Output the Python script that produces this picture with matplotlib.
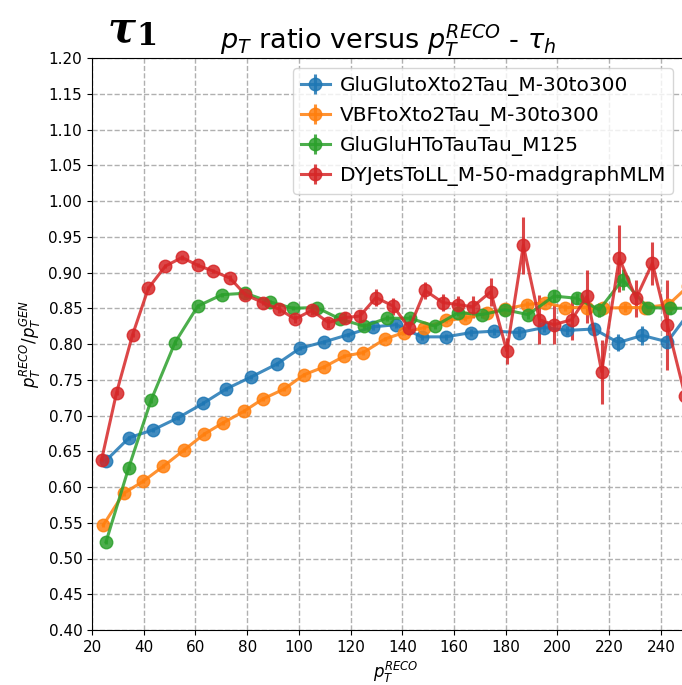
import matplotlib.pyplot as plt
import numpy as np

# values
blue_x = [25.4, 34.4, 43.7, 53.4, 63.0, 71.8, 81.6, 91.5, 100.4, 109.8, 119.1, 128.8, 137.6,
          147.5, 156.8, 166.6, 175.6, 185.1, 194.8, 203.8, 214.1, 223.5, 232.8, 242.5, 252.2]
blue_y = [0.637, 0.669, 0.680, 0.697, 0.717, 0.737, 0.754, 0.772, 0.794, 0.803, 0.813, 0.824, 0.827,
          0.810, 0.810, 0.816, 0.818, 0.816, 0.823, 0.819, 0.821, 0.802, 0.812, 0.803, 0.850]
blue_err = [0.003, 0.003, 0.003, 0.003, 0.003, 0.003, 0.003, 0.003, 0.003, 0.003, 0.003, 0.004, 0.004,
            0.004, 0.004, 0.005, 0.005, 0.006, 0.006, 0.006, 0.007, 0.012, 0.013, 0.010, 0.010]

orange_x = [24.4, 32.2, 39.8, 47.6, 55.7, 63.4, 70.8, 78.8, 86.0, 94.3, 102.0, 109.8, 117.6, 124.9, 133.3,
            140.6, 148.5, 156.9, 164.2, 172.6, 179.7, 188.1, 195.2, 202.9, 211.3, 217.7, 226.1, 233.8, 242.9, 250.6]
orange_y = [0.547, 0.591, 0.608, 0.629, 0.652, 0.674, 0.690, 0.706, 0.723, 0.737, 0.757, 0.768, 0.783, 0.788, 0.807,
            0.816, 0.823, 0.833, 0.836, 0.843, 0.849, 0.855, 0.858, 0.851, 0.851, 0.850, 0.851, 0.851, 0.855, 0.881]
orange_err = [0.003, 0.003, 0.003, 0.003, 0.003, 0.003, 0.003, 0.003, 0.003, 0.003, 0.003, 0.003, 0.003, 0.003, 0.003,
              0.003, 0.004, 0.004, 0.004, 0.004, 0.004, 0.005, 0.005, 0.005, 0.005, 0.006, 0.006, 0.006, 0.006, 0.006]

green_x = [25.4, 34.2, 42.8, 52.1, 60.9, 70.3, 79.3, 88.8, 97.6, 106.9, 115.9, 125.2, 134.0,
           143.0, 152.6, 161.7, 170.7, 179.7, 188.7, 198.6, 207.4, 216.2, 225.2, 234.9, 243.5, 252.3]
green_y = [0.523, 0.627, 0.721, 0.802, 0.853, 0.869, 0.871, 0.859, 0.850, 0.851, 0.835, 0.825, 0.836,
           0.836, 0.825, 0.844, 0.841, 0.848, 0.841, 0.867, 0.864, 0.848, 0.890, 0.851, 0.850, 0.850]
green_err = [0.003, 0.003, 0.003, 0.003, 0.003, 0.003, 0.003, 0.003, 0.003, 0.003, 0.003, 0.004, 0.004,
             0.004, 0.004, 0.005, 0.005, 0.006, 0.006, 0.008, 0.008, 0.010, 0.015, 0.008, 0.008, 0.008]

red_x = [23.7, 29.5, 35.7, 41.8, 48.4, 54.8, 60.9, 66.9, 73.4, 79.3, 86.0, 92.2, 98.5, 105.0, 111.4,
         117.8, 123.6, 129.8, 136.5, 142.7, 148.8, 155.6, 161.7, 167.2, 174.2, 180.4, 186.8, 193.0,
         198.6, 205.5, 211.5, 217.1, 223.9, 230.4, 236.7, 242.5, 249.4]
red_y = [0.638, 0.732, 0.813, 0.878, 0.909, 0.921, 0.910, 0.902, 0.892, 0.869, 0.858, 0.849, 0.835, 0.847, 0.830,
         0.837, 0.839, 0.865, 0.853, 0.822, 0.875, 0.858, 0.855, 0.852, 0.873, 0.790, 0.938, 0.834,
         0.827, 0.834, 0.867, 0.761, 0.920, 0.864, 0.913, 0.827, 0.727]
red_err = [0.003, 0.003, 0.003, 0.003, 0.003, 0.003, 0.003, 0.003, 0.004, 0.004, 0.004, 0.005, 0.006, 0.007, 0.007,
           0.008, 0.008, 0.012, 0.012, 0.010, 0.012, 0.012, 0.012, 0.015, 0.020, 0.018, 0.040, 0.034,
           0.027, 0.029, 0.037, 0.045, 0.047, 0.026, 0.030, 0.063, 0.060]

labels = ['GluGlutoXto2Tau_M-30to300', 'VBFtoXto2Tau_M-30to300',
          'GluGluHToTauTau_M125', 'DYJetsToLL_M-50-madgraphMLM']

fig = plt.figure(figsize=(6.82, 6.85), dpi=100)
ax = fig.add_axes([92/682, 55/685, 607.7/682, 572/685])

series = [(blue_x, blue_y, blue_err), (orange_x, orange_y, orange_err),
          (green_x, green_y, green_err), (red_x, red_y, red_err)]
for (x, y, e), lab in zip(series, labels):
    ax.errorbar(x, y, yerr=e, fmt='-o', markersize=9, linewidth=2.2, elinewidth=2.2,
                alpha=0.85, label=lab)

ax.set_xlim(20, 255)
ax.set_ylim(0.40, 1.20)
ax.set_xticks(np.arange(20, 241, 20))
ax.set_yticks(np.arange(0.40, 1.201, 0.05))
ax.tick_params(labelsize=11)
ax.grid(linestyle='--', color='#b0b0b0', linewidth=1)
ax.set_axisbelow(True)

ax.set_title(r'$p_T$ ratio versus $p_T^{RECO}$ - $\tau_h$', fontsize=19.5, pad=6, x=0.487)
ax.set_xlabel(r'$p_T^{RECO}$', fontsize=12)
ax.set_ylabel(r'$p_T^{RECO}/p_T^{GEN}$', fontsize=12)

ax.legend(loc='upper right', bbox_to_anchor=(673/682, 1 - 68/685), bbox_transform=fig.transFigure,
          borderaxespad=0, fontsize=14.5, handlelength=1.4, handletextpad=0.5,
          labelspacing=0.5, framealpha=0.8)

fig.text(108/682, 1 - 42/685, u'\u03c4', fontsize=30, family='DejaVu Serif',
         weight='bold', style='italic')
fig.text(136/682, 1 - 45/685, '1', fontsize=22, family='DejaVu Serif', weight='bold')

fig.savefig('out.png', dpi=100)
